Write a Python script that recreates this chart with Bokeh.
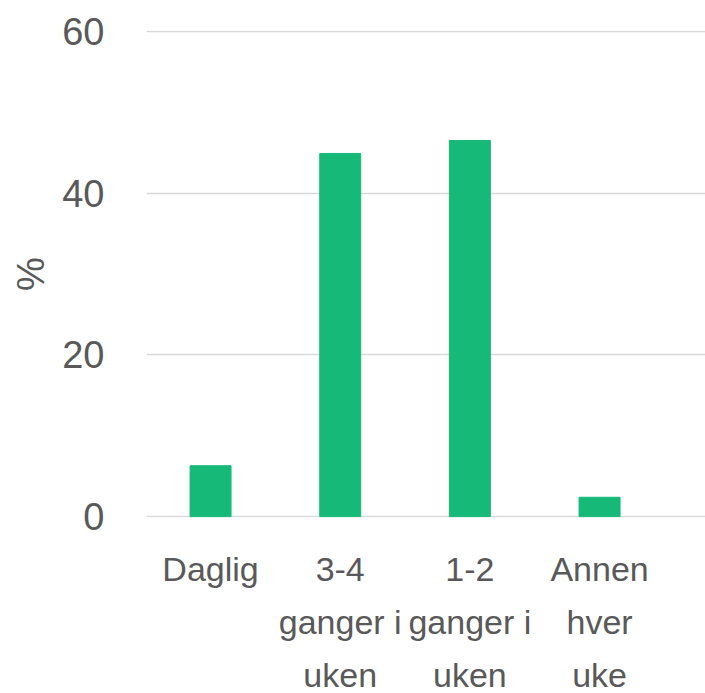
from bokeh.plotting import figure
from bokeh.models import Range1d, FixedTicker, ColumnDataSource, LinearAxis
from bokeh.embed import file_html
from bokeh.resources import INLINE

categories = ["Daglig", "3-4 ganger i uken", "1-2 ganger i uken", "Annen hver uke"]
category_lines = [["Daglig", "", ""], ["3-4", "ganger i", "uken"], ["1-2", "ganger i", "uken"], ["Annen", "hver", "uke"]]
values = [6.3, 44.9, 46.5, 2.4]
y_ticks = [0, 20, 40, 60]

xs = list(range(len(categories)))
src = ColumnDataSource(data=dict(x=xs, top=values))

p = figure(frame_width=559, frame_height=487, output_backend="svg", toolbar_location=None,
           x_range=Range1d(-0.494, 3.817), y_range=Range1d(-0.1, 60.1),
           x_axis_location=None,
           min_border_left=146, min_border_right=0, min_border_top=30, min_border_bottom=176)
p.outline_line_color = None
p.background_fill_color = "white"
p.border_fill_color = "white"

p.vbar(x="x", top="top", bottom=0, width=0.316, source=src, color="#17B978")

font = "Liberation Sans"
gray = "#595959"

standoffs = [32, 12, 12]
for j in range(3):
    ax = LinearAxis(ticker=FixedTicker(ticks=xs),
                    major_label_overrides={i: category_lines[i][j] for i in xs},
                    major_label_text_font=font, major_label_text_font_size="34px",
                    major_label_text_color=gray, major_label_standoff=standoffs[j],
                    axis_line_color=None, major_tick_line_color=None, minor_tick_line_color=None,
                    major_tick_out=0, major_tick_in=0, minor_tick_out=0, minor_tick_in=0)
    p.add_layout(ax, "below")

p.yaxis.ticker = FixedTicker(ticks=y_ticks)
p.yaxis.major_label_text_font = font
p.yaxis.major_label_text_font_size = "38px"
p.yaxis.major_label_text_color = gray
p.yaxis.major_label_standoff = 42
p.yaxis.axis_line_color = None
p.yaxis.major_tick_line_color = None
p.yaxis.minor_tick_line_color = None
p.yaxis.major_tick_out = 0
p.yaxis.major_tick_in = 0
p.yaxis.axis_label = "%"
p.yaxis.axis_label_text_font = font
p.yaxis.axis_label_text_font_size = "38px"
p.yaxis.axis_label_text_font_style = "normal"
p.yaxis.axis_label_text_color = gray
p.yaxis.axis_label_standoff = 7

p.xgrid.grid_line_color = None
p.ygrid.ticker = FixedTicker(ticks=y_ticks)
p.ygrid.grid_line_color = "#D9D9D9"
p.ygrid.grid_line_width = 1.5

open("out.html", "w").write(file_html(p, INLINE))
